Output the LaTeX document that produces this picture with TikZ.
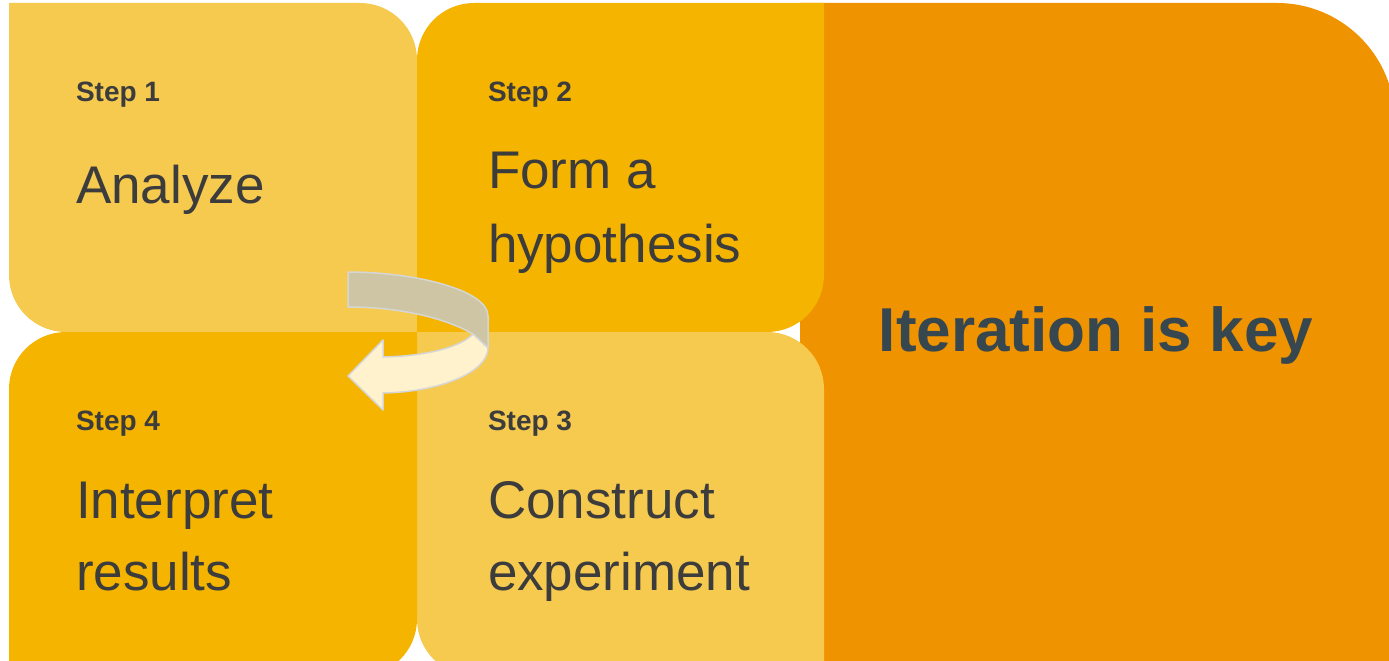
\documentclass[tikz,border=0pt]{standalone}
\usepackage{fontspec}
\setmainfont{Liberation Sans}
\begin{document}
\definecolor{paleyellow}{HTML}{F6CA4F}
\definecolor{deepyellow}{HTML}{F4B400}
\definecolor{deeporange}{HTML}{F09300}
\definecolor{inkgray}{HTML}{3C3C3C}
\definecolor{slateink}{HTML}{37474F}
\definecolor{bandback}{HTML}{CEC5A4}
\definecolor{bandfront}{HTML}{FFF2CC}
\definecolor{bandedge}{HTML}{D6D6D6}
\begin{tikzpicture}[x=1pt,y=-1pt,
  steplabel/.style={inner sep=0pt,outer sep=0pt,anchor=base west,text=inkgray,
    font=\fontsize{28}{34}\selectfont\bfseries},
  stepname/.style={inner sep=0pt,outer sep=0pt,anchor=base west,text=inkgray,
    font=\fontsize{53}{74}\selectfont},
  keytext/.style={inner sep=0pt,outer sep=0pt,anchor=base,text=slateink,
    font=\fontsize{62}{74}\selectfont\bfseries},
  ribbon/.style={draw=bandedge,line width=1.5pt,line join=round}]
\useasboundingbox (0,0) rectangle (1389,661);
\fill[white] (0,0) rectangle (1389,661);
\clip (0,0) rectangle (1389,661);

% large orange panel on the right
\fill[deeporange] (800,3) -- (1277,3) arc[start angle=-90,end angle=0,radius=118]
  -- (1395,700) -- (800,700) -- cycle;

% step 1 (top left)
\fill[paleyellow] (9,3) -- (360,3) arc[start angle=-90,end angle=0,radius=57]
  -- (417,332) -- (66,332) arc[start angle=90,end angle=180,radius=57] -- cycle;
% step 2 (top right)
\fill[deepyellow] (417,60) arc[start angle=180,end angle=270,radius=57]
  -- (824,3) -- (824,275) arc[start angle=0,end angle=90,radius=57]
  -- (417,332) -- cycle;
% step 3 (bottom right)
\fill[paleyellow] (417,332) -- (767,332) arc[start angle=-90,end angle=0,radius=57]
  -- (824,676) -- (474,676) arc[start angle=90,end angle=180,radius=57] -- cycle;
% step 4 (bottom left)
\fill[deepyellow] (9,389) arc[start angle=180,end angle=270,radius=57]
  -- (417,332) -- (417,619) arc[start angle=0,end angle=90,radius=57]
  -- (9,676) -- cycle;

% texts
\node[steplabel] (s1) at (76,101) {Step 1};
\node[stepname] (t1) at (76,203) {Analyze};
\node[steplabel] (s2) at (488,101) {Step 2};
\node[stepname] (t2a) at (488,188) {Form a};
\node[stepname] (t2b) at (488,262) {hypothesis};
\node[steplabel] (s4) at (76,430) {Step 4};
\node[stepname] (t4a) at (76,518) {Interpret};
\node[stepname] (t4b) at (76,590) {results};
\node[steplabel] (s3) at (488,430) {Step 3};
\node[stepname] (t3a) at (488,518) {Construct};
\node[stepname] (t3b) at (488,590) {experiment};
\node[keytext] (key) at (1096,351) {Iteration is key};

% curved return arrow: back of the ribbon, then its front with the head
\path[ribbon,fill=bandback] (348,272) .. controls (415,272) and (488,290) .. (488,316)
  -- (488,348) -- (473,334) .. controls (445,318) and (400,307) .. (348,307) -- cycle;
\path[ribbon,fill=bandfront] (473,334) -- (488,348)
  .. controls (488,372) and (440,392) .. (383,393)
  -- (383,410) -- (348,376) -- (383,340) -- (383,357)
  .. controls (430,356) and (462,346) .. (473,334) -- cycle;
\end{tikzpicture}
\end{document}
